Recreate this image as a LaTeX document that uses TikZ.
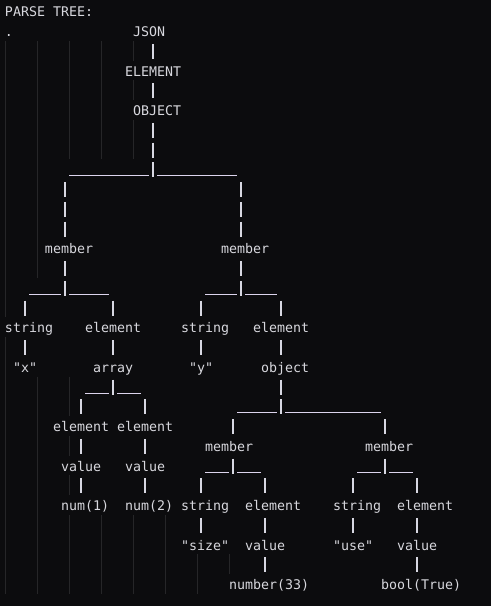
\documentclass[tikz,border=0pt]{standalone}
\usepackage{fontspec}
\setmonofont{DejaVu Sans Mono}
\definecolor{bgc}{HTML}{0C0C0E}
\definecolor{fgc}{HTML}{D8D8DE}
\definecolor{pipec}{HTML}{D8D8E2}
\definecolor{undc}{HTML}{DCD4EC}
\definecolor{guidec}{HTML}{262628}
\begin{document}
\begin{tikzpicture}
\fill[bgc] (0,0) rectangle (491pt,-606pt);
\useasboundingbox (0,0) rectangle (491pt,-606pt);
\begin{scope}[shift={(5pt,-11.25pt)}, x=8pt, y=-19.75pt,
  lbl/.style={inner sep=0pt, outer sep=0pt, anchor=west, text height=15.375pt, text depth=4.375pt,
    font=\ttfamily\fontsize{13.29pt}{15pt}\selectfont, text=fgc},
  vbar/.style={draw=pipec, line width=1.2pt, dash pattern=on 15pt off 4.75pt, dash phase=16.875pt},
  hbar/.style={draw=undc, line width=1pt},
  iguide/.style={draw=guidec, line width=0.9pt}]
% indentation guides
\foreach \r/\n in {2/4,3/3,4/4,5/3,6/4,7/4,8/1,9/1,10/1,11/1,12/1,13/1,14/0,15/0,17/0,18/0,19/2,20/2,21/1,22/2,23/1,24/2,25/1,26/5,27/5,28/7,29/6}
  \foreach \k in {0,...,\n}
    \draw[iguide] ({4*\k+0.09},\r-0.5) -- ({4*\k+0.09},\r+0.5);
% column coordinates
\foreach \c in {2,7,9,13,17,18,24,28,29,32,34,43,47,51}
  \coordinate (c\c) at (\c+0.5,0);
% labels
\node[lbl] (title) at (0,0) {PARSE TREE:};
\node[lbl] (dot) at (0,1) {.};
\node[lbl] (json) at (16,1) {JSON};
\node[lbl] (elem0) at (15,3) {ELEMENT};
\node[lbl] (obj0) at (16,5) {OBJECT};
\node[lbl] (memA) at (5,12) {member};
\node[lbl] (memB) at (27,12) {member};
\node[lbl] (strA) at (0,16) {string};
\node[lbl] (elA) at (10,16) {element};
\node[lbl] (strB) at (22,16) {string};
\node[lbl] (elB) at (31,16) {element};
\node[lbl] (qx) at (1,18) {"x"};
\node[lbl] (arr) at (11,18) {array};
\node[lbl] (qy) at (23,18) {"y"};
\node[lbl] (objB) at (32,18) {object};
\node[lbl] (el1) at (6,21) {element};
\node[lbl] (el2) at (14,21) {element};
\node[lbl] (memC) at (25,22) {member};
\node[lbl] (memD) at (45,22) {member};
\node[lbl] (val1) at (7,23) {value};
\node[lbl] (val2) at (15,23) {value};
\node[lbl] (num1) at (7,25) {num(1)};
\node[lbl] (num2) at (15,25) {num(2)};
\node[lbl] (strC) at (22,25) {string};
\node[lbl] (elC) at (30,25) {element};
\node[lbl] (strD) at (41,25) {string};
\node[lbl] (elD) at (49,25) {element};
\node[lbl] (qsize) at (22,27) {"size"};
\node[lbl] (valC) at (30,27) {value};
\node[lbl] (quse) at (41,27) {"use"};
\node[lbl] (valD) at (49,27) {value};
\node[lbl] (n33) at (28,29) {number(33)};
\node[lbl] (bT) at (47,29) {bool(True)};
% junctions
\coordinate (j1) at (18.5,8.5);
\coordinate (j2) at (7.5,14.5);
\coordinate (j3) at (29.5,14.5);
\coordinate (j4) at (13.5,19.5);
\coordinate (j5) at (34.5,20.5);
\coordinate (j6) at (28.5,23.5);
\coordinate (j7) at (47.5,23.5);
% connectors
\draw[vbar] (json.south -| c18) -- (elem0.north -| c18);
\draw[vbar] (elem0.south -| c18) -- (obj0.north -| c18);
\draw[vbar] (obj0.south -| c18) -- (j1);
\draw[hbar] (8,8.33) -- (18,8.33);
\draw[hbar] (19,8.33) -- (29,8.33);
\draw[vbar] (j1 -| c7) -- (memA.north -| c7);
\draw[vbar] (j1 -| c29) -- (memB.north -| c29);
\draw[vbar] (memA.south -| c7) -- (j2);
\draw[hbar] (3,14.33) -- (7,14.33);
\draw[hbar] (8,14.33) -- (13,14.33);
\draw[vbar] (j2 -| c2) -- (strA.north -| c2);
\draw[vbar] (j2 -| c13) -- (elA.north -| c13);
\draw[vbar] (memB.south -| c29) -- (j3);
\draw[hbar] (25,14.33) -- (29,14.33);
\draw[hbar] (30,14.33) -- (34,14.33);
\draw[vbar] (j3 -| c24) -- (strB.north -| c24);
\draw[vbar] (j3 -| c34) -- (elB.north -| c34);
\draw[vbar] (strA.south -| c2) -- (qx.north -| c2);
\draw[vbar] (elA.south -| c13) -- (arr.north -| c13);
\draw[vbar] (strB.south -| c24) -- (qy.north -| c24);
\draw[vbar] (elB.south -| c34) -- (objB.north -| c34);
\draw[vbar] (arr.south -| c13) -- (j4);
\draw[hbar] (10,19.33) -- (13,19.33);
\draw[hbar] (14,19.33) -- (17,19.33);
\draw[vbar] (j4 -| c9) -- (el1.north -| c9);
\draw[vbar] (j4 -| c17) -- (el2.north -| c17);
\draw[vbar] (objB.south -| c34) -- (j5);
\draw[hbar] (29,20.33) -- (34,20.33);
\draw[hbar] (35,20.33) -- (47,20.33);
\draw[vbar] (j5 -| c28) -- (memC.north -| c28);
\draw[vbar] (j5 -| c47) -- (memD.north -| c47);
\draw[vbar] (el1.south -| c9) -- (val1.north -| c9);
\draw[vbar] (el2.south -| c17) -- (val2.north -| c17);
\draw[vbar] (val1.south -| c9) -- (num1.north -| c9);
\draw[vbar] (val2.south -| c17) -- (num2.north -| c17);
\draw[vbar] (memC.south -| c28) -- (j6);
\draw[hbar] (25,23.33) -- (28,23.33);
\draw[hbar] (29,23.33) -- (32,23.33);
\draw[vbar] (j6 -| c24) -- (strC.north -| c24);
\draw[vbar] (j6 -| c32) -- (elC.north -| c32);
\draw[vbar] (memD.south -| c47) -- (j7);
\draw[hbar] (44,23.33) -- (47,23.33);
\draw[hbar] (48,23.33) -- (51,23.33);
\draw[vbar] (j7 -| c43) -- (strD.north -| c43);
\draw[vbar] (j7 -| c51) -- (elD.north -| c51);
\draw[vbar] (strC.south -| c24) -- (qsize.north -| c24);
\draw[vbar] (elC.south -| c32) -- (valC.north -| c32);
\draw[vbar] (strD.south -| c43) -- (quse.north -| c43);
\draw[vbar] (elD.south -| c51) -- (valD.north -| c51);
\draw[vbar] (valC.south -| c32) -- (n33.north -| c32);
\draw[vbar] (valD.south -| c51) -- (bT.north -| c51);
\end{scope}
\end{tikzpicture}
\end{document}
